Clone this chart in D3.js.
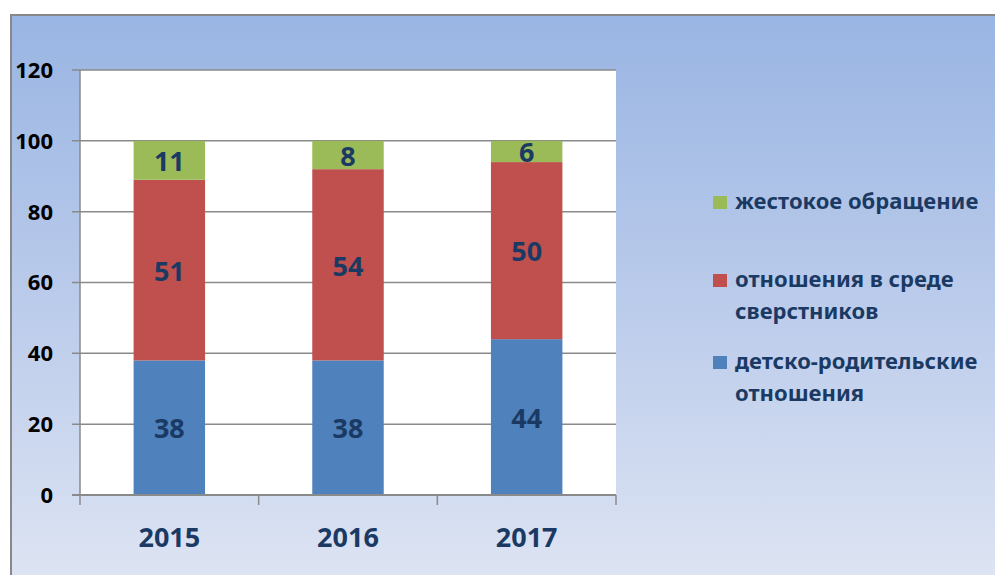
<!DOCTYPE html>
<html>
<head>
<meta charset="utf-8">
<script src="https://cdn.jsdelivr.net/npm/d3@7"></script>
<style>
  html, body { margin: 0; padding: 0; background: #fff; }
  #chart { width: 995px; height: 575px; }
  text { font-family: "Noto Sans", "Open Sans", sans-serif; font-weight: bold; }
</style>
</head>
<body>
<div id="chart"></div>
<script>
// values
const years = ["2015", "2016", "2017"];
const parentChild = [38, 38, 44];
const peers = [51, 54, 50];
const abuse = [11, 8, 6];
const seriesNames = ["детско-родительские отношения", "отношения в среде сверстников", "жестокое обращение"];
const seriesColors = ["#4F81BD", "#C0504D", "#9BBB59"];
const yTicks = [0, 20, 40, 60, 80, 100, 120];

const width = 995, height = 575;
const svg = d3.select("#chart").append("svg")
    .attr("width", width)
    .attr("height", height);

// background frame with vertical gradient
const grad = svg.append("defs").append("linearGradient")
    .attr("id", "bg").attr("x1", 0).attr("y1", 0).attr("x2", 0).attr("y2", 1);
grad.append("stop").attr("offset", "0%").attr("stop-color", "#99B5E3");
grad.append("stop").attr("offset", "50%").attr("stop-color", "#BCCCEB");
grad.append("stop").attr("offset", "100%").attr("stop-color", "#E1E7F4");

svg.append("rect")
    .attr("x", 11).attr("y", 15)
    .attr("width", width + 20).attr("height", height + 20)
    .attr("fill", "url(#bg)")
    .attr("stroke", "#888")
    .attr("stroke-width", 2);

const plot = { left: 80, right: 616, top: 70, bottom: 495 };

const x = d3.scaleBand()
    .domain(years)
    .range([plot.left, plot.right])
    .paddingInner(0.6)
    .paddingOuter(0.3);

const xCat = d3.scaleBand().domain(years).range([plot.left, plot.right]);

const y = d3.scaleLinear()
    .domain([0, 120])
    .range([plot.bottom, plot.top]);

// plot area
svg.append("rect")
    .attr("x", plot.left).attr("y", plot.top)
    .attr("width", plot.right - plot.left)
    .attr("height", plot.bottom - plot.top)
    .attr("fill", "#fff");

// gridlines + y ticks
svg.append("g")
    .selectAll("line")
    .data(yTicks)
    .join("line")
    .attr("x1", plot.left - 8)
    .attr("x2", plot.right)
    .attr("y1", d => y(d))
    .attr("y2", d => y(d))
    .attr("stroke", "#8A8A8A")
    .attr("stroke-width", 1.5);

svg.append("g")
    .selectAll("text")
    .data(yTicks)
    .join("text")
    .attr("x", 53)
    .attr("y", d => y(d))
    .attr("dy", "0.36em")
    .attr("text-anchor", "end")
    .attr("font-size", 22)
    .attr("fill", "#000")
    .text(d => d);

// stacked bars
const table = years.map((yr, i) => ({ year: yr, s0: parentChild[i], s1: peers[i], s2: abuse[i] }));
const stack = d3.stack().keys(["s0", "s1", "s2"]);
const layers = stack(table);

const gLayers = svg.append("g")
    .selectAll("g")
    .data(layers)
    .join("g")
    .attr("fill", (d, i) => seriesColors[i]);

gLayers.selectAll("rect")
    .data(d => d)
    .join("rect")
    .attr("x", d => x(d.data.year))
    .attr("width", x.bandwidth())
    .attr("y", d => y(d[1]))
    .attr("height", d => y(d[0]) - y(d[1]));

gLayers.selectAll("text")
    .data(d => d)
    .join("text")
    .attr("x", d => x(d.data.year) + x.bandwidth() / 2)
    .attr("y", d => y((d[0] + d[1]) / 2) + 1)
    .attr("dy", "0.36em")
    .attr("text-anchor", "middle")
    .attr("font-size", 27)
    .attr("fill", "#1B3A63")
    .text(d => d[1] - d[0]);

// axes lines
svg.append("line")
    .attr("x1", plot.left).attr("x2", plot.left)
    .attr("y1", plot.top).attr("y2", plot.bottom + 10)
    .attr("stroke", "#8A8A8A").attr("stroke-width", 1.5);

svg.append("line")
    .attr("x1", plot.left - 8).attr("x2", plot.right)
    .attr("y1", plot.bottom).attr("y2", plot.bottom)
    .attr("stroke", "#8A8A8A").attr("stroke-width", 2);

svg.append("g")
    .selectAll("line")
    .data(years)
    .join("line")
    .attr("x1", d => xCat(d) + xCat.bandwidth())
    .attr("x2", d => xCat(d) + xCat.bandwidth())
    .attr("y1", plot.bottom)
    .attr("y2", plot.bottom + 10)
    .attr("stroke", "#8A8A8A").attr("stroke-width", 1.5);

svg.append("g")
    .selectAll("text")
    .data(years)
    .join("text")
    .attr("x", d => x(d) + x.bandwidth() / 2)
    .attr("y", 537)
    .attr("dy", "0.36em")
    .attr("text-anchor", "middle")
    .attr("font-size", 27)
    .attr("fill", "#1B3A63")
    .text(d => d);

// legend
const legendItems = [
    { color: seriesColors[2], lines: ["жестокое обращение"], top: 196 },
    { color: seriesColors[1], lines: ["отношения в среде", "сверстников"], top: 274 },
    { color: seriesColors[0], lines: ["детско-родительские", "отношения"], top: 356 }
];

const lg = svg.append("g")
    .selectAll("g")
    .data(legendItems)
    .join("g");

lg.append("rect")
    .attr("x", 713)
    .attr("y", d => d.top)
    .attr("width", 14)
    .attr("height", 13)
    .attr("fill", d => d.color);

lg.append("text")
    .attr("font-size", 22)
    .attr("fill", "#1B3A63")
    .selectAll("tspan")
    .data(d => d.lines.map((t, i) => ({ t, i, top: d.top })))
    .join("tspan")
    .attr("x", 735)
    .attr("y", d => d.top + 13 + d.i * 32)
    .text(d => d.t);
</script>
</body>
</html>
